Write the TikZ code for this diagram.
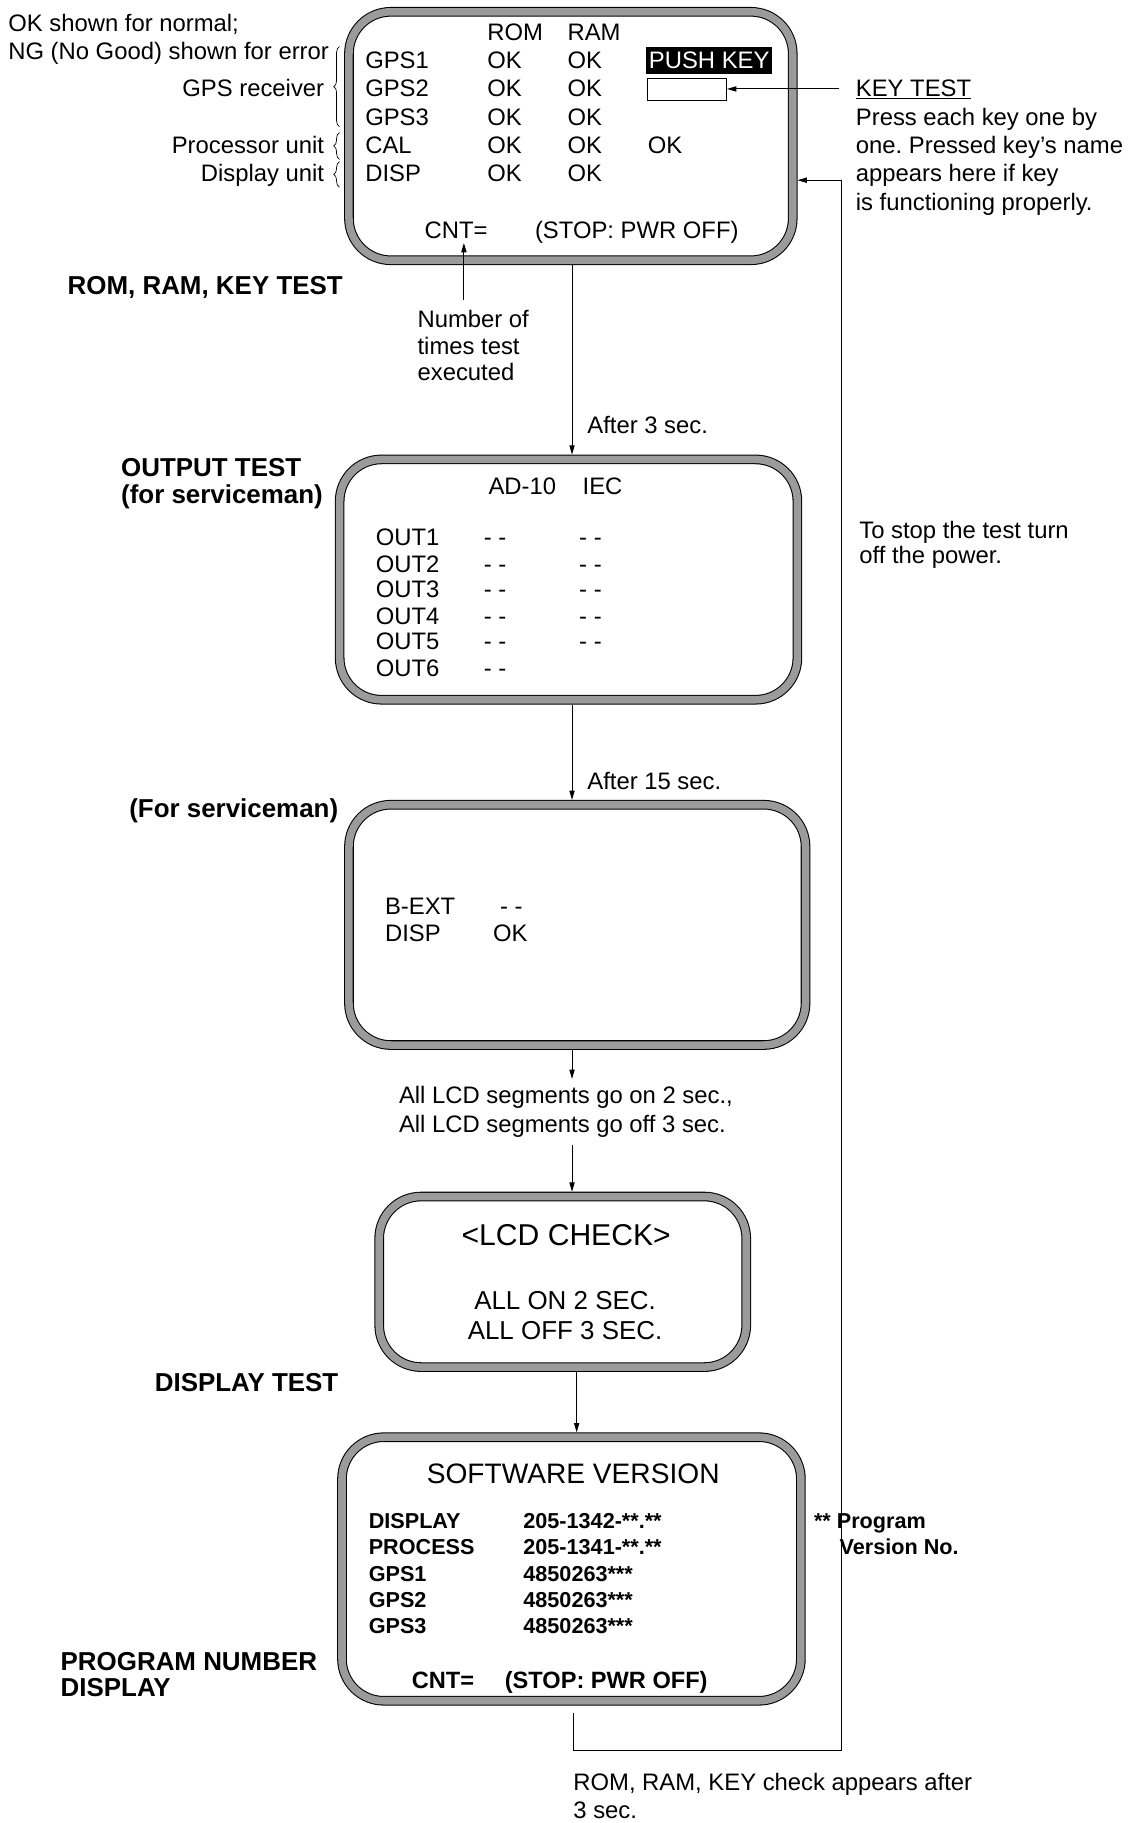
\documentclass[tikz,border=0pt]{standalone}
\usepackage{fontspec}
\setmainfont{Liberation Sans}
\usetikzlibrary{arrows.meta,decorations.pathreplacing}
\definecolor{midgray}{RGB}{155,155,155}
\frenchspacing
\begin{document}
\begin{tikzpicture}[x=1pt,y=-1pt,
  screen/.style={draw=black, line width=0.9pt, double=midgray, double distance=6.5pt,
    fill=white, rounded corners=36pt, inner sep=0pt, outer sep=4.15pt},
  t/.style={inner sep=0pt, anchor=base west, font=\fontsize{20.5}{24}\selectfont},
  tc/.style={t, anchor=base},
  tr/.style={t, anchor=base east},
  hb/.style={inner sep=0pt, anchor=base west, font=\fontsize{22.3}{26}\selectfont\bfseries},
  sb/.style={inner sep=0pt, anchor=base west, font=\fontsize{18.6}{22}\selectfont\bfseries},
  arr/.style={line width=0.8pt, -{Triangle[length=8pt,width=4.5pt]}},
  ln/.style={line width=0.8pt},
  brc/.style={line width=0.6pt, decorate, decoration={brace, amplitude=5pt}}
]
\useasboundingbox (0,0) rectangle (976,1568);

% ---------- screens ----------
\node[screen, minimum width=381.7, minimum height=213.7] (b1) at (491,117) {};
\node[screen, minimum width=393.7, minimum height=206.7] (b2) at (489,498.5) {};
\node[screen, minimum width=392.7, minimum height=206.7] (b3) at (496.5,795.5) {};
\node[screen, minimum width=315.7, minimum height=146.7] (b4) at (484,1102.5) {};
\node[screen, minimum width=394.7, minimum height=226.7] (b5) at (491.5,1349.5) {};

% ---------- top-left notes ----------
\node[t] (okn) at (7,27) {OK shown for normal;};
\node[t] (ngn) at (7,51) {NG (No Good) shown for error};
\node[tr] (gpsr) at (279,83) {GPS receiver};
\node[tr] (procu) at (279,132) {Processor unit};
\node[tr] (dispu) at (279,156) {Display unit};
\draw[brc] (292,109) -- (292,40);
\draw[brc] (292,137) -- (292,114);
\draw[brc] (292,161) -- (292,139);

% ---------- box 1 ----------
\node[t] (rom) at (419,35) {ROM};
\node[t] (ram) at (488,35) {RAM};
\node[t] (g1) at (314,59) {GPS1};
\node[t] (g1a) at (419,59) {OK};
\node[t] (g1b) at (488,59) {OK};
\node[fill=black, text=white, inner sep=0pt, minimum width=108, minimum height=24,
  font=\fontsize{20.5}{24}\selectfont] (pk) at (610,52) {PUSH KEY};
\node[t] (g2) at (314,83) {GPS2};
\node[t] (g2a) at (419,83) {OK};
\node[t] (g2b) at (488,83) {OK};
\node[draw, line width=0.6pt, inner sep=0pt, minimum width=68, minimum height=19] (keybox) at (591,76.5) {};
\node[t] (g3) at (314,108) {GPS3};
\node[t] (g3a) at (419,108) {OK};
\node[t] (g3b) at (488,108) {OK};
\node[t] (cal) at (314,132) {CAL};
\node[t] (cala) at (419,132) {OK};
\node[t] (calb) at (488,132) {OK};
\node[t] (calc) at (557,132) {OK};
\node[t] (dsp) at (314,156) {DISP};
\node[t] (dspa) at (419,156) {OK};
\node[t] (dspb) at (488,156) {OK};
\node[t] (cnt) at (365,205) {CNT=};
\node[t] (stop1) at (460,205) {(STOP: PWR OFF)};

% ---------- key test note ----------
\node[t] (kt) at (736,83) {\underline{KEY TEST}};
\node[t] (kt1) at (736,108) {Press each key one by};
\node[t] (kt2) at (736,132) {one. Pressed key’s name};
\node[t] (kt3) at (736,156) {appears here if key};
\node[t] (kt4) at (736,181) {is functioning properly.};
\coordinate (ktc) at (722,76.5);
\draw[arr] (ktc) -- (keybox.east);

% ---------- count note ----------
\node[hb] (h1) at (58,253) {ROM, RAM, KEY TEST};
\node[t] (nt1) at (359,282) {Number of};
\node[t] (nt2) at (359,305) {times test};
\node[t] (nt3) at (359,327) {executed};
\coordinate (nc) at (399,258);
\coordinate (ncend) at (399,209);
\draw[arr] (nc) -- (ncend);

% ---------- flow ----------
\coordinate (axis) at (492,0);
\coordinate (axisb) at (496,0);
\draw[arr] (b1.south -| axis) -- (b2.north -| axis);
\node[t] (a3s) at (505,373) {After 3 sec.};

\node[hb] (h2a) at (104,410) {OUTPUT TEST};
\node[hb] (h2b) at (104,433) {(for serviceman)};
\node[t] (ad) at (420,425) {AD-10};
\node[t] (iec) at (501,425) {IEC};
\node[t] (o1) at (323,469) {OUT1};
\node[t] (o1a) at (416,469) {- -};
\node[t] (o1b) at (498,469) {- -};
\node[t] (o2) at (323,492) {OUT2};
\node[t] (o2a) at (416,492) {- -};
\node[t] (o2b) at (498,492) {- -};
\node[t] (o3) at (323,514) {OUT3};
\node[t] (o3a) at (416,514) {- -};
\node[t] (o3b) at (498,514) {- -};
\node[t] (o4) at (323,537) {OUT4};
\node[t] (o4a) at (416,537) {- -};
\node[t] (o4b) at (498,537) {- -};
\node[t] (o5) at (323,559) {OUT5};
\node[t] (o5a) at (416,559) {- -};
\node[t] (o5b) at (498,559) {- -};
\node[t] (o6) at (323,582) {OUT6};
\node[t] (o6a) at (416,582) {- -};

\node[t] (st1) at (739,463) {To stop the test turn};
\node[t] (st2) at (739,485) {off the power.};

\draw[arr] (b2.south -| axis) -- (b3.north -| axis);
\node[t] (a15s) at (505,679) {After 15 sec.};

\node[hb] (h3) at (111,703) {(For serviceman)};
\node[t] (bext) at (331,787) {B-EXT};
\node[t] (bexta) at (430,787) {- -};
\node[t] (dsp3) at (331,810) {DISP};
\node[t] (dsp3a) at (424,810) {OK};

\node[t] (lcd1) at (343,949) {All LCD segments go on 2 sec.,};
\node[t] (lcd2) at (343,974) {All LCD segments go off 3 sec.};
\coordinate (lcdend) at (492,928);
\draw[arr] (b3.south -| axis) -- (lcdend);
\coordinate (lcdstart) at (492,985);
\draw[arr] (lcdstart) -- (b4.north -| axis);

\node[inner sep=0pt, anchor=base, font=\fontsize{25.9}{30}\selectfont] (lcdc) at (487,1071) {<LCD CHECK>};
\node[inner sep=0pt, anchor=base, font=\fontsize{22.3}{26}\selectfont] (allon) at (486,1126) {ALL ON 2 SEC.};
\node[inner sep=0pt, anchor=base, font=\fontsize{22.3}{26}\selectfont] (alloff) at (486,1152) {ALL OFF 3 SEC.};

\node[hb] (h4) at (133,1197) {DISPLAY TEST};
\draw[arr] (b4.south -| axisb) -- (b5.north -| axisb);

% ---------- box 5 ----------
\node[inner sep=0pt, anchor=base, font=\fontsize{24.2}{28}\selectfont] (swv) at (493,1276) {SOFTWARE VERSION};
\node[sb] (s1) at (317,1315) {DISPLAY};
\node[sb] (s1v) at (450,1315) {205-1342-**.**};
\node[sb] (s2) at (317,1337) {PROCESS};
\node[sb] (s2v) at (450,1337) {205-1341-**.**};
\node[sb] (s3) at (317,1360) {GPS1};
\node[sb] (s3v) at (450,1360) {4850263***};
\node[sb] (s4) at (317,1383) {GPS2};
\node[sb] (s4v) at (450,1383) {4850263***};
\node[sb] (s5) at (317,1405) {GPS3};
\node[sb] (s5v) at (450,1405) {4850263***};
\node[inner sep=0pt, anchor=base west, font=\fontsize{20.3}{24}\selectfont\bfseries] (cnt5) at (354,1452) {CNT=};
\node[inner sep=0pt, anchor=base west, font=\fontsize{20.3}{24}\selectfont\bfseries] (stop5) at (434,1452) {(STOP: PWR OFF)};

\node[hb] (h5a) at (52,1437) {PROGRAM NUMBER};
\node[hb] (h5b) at (52,1459) {DISPLAY};

\node[sb] (pv1) at (700,1315) {** Program};
\node[sb] (pv2) at (722,1337) {Version No.};

% ---------- return loop ----------
\coordinate (r0) at (493,1473);
\coordinate (r2) at (724,1506);
\coordinate (r3) at (724,155);
\draw[arr] (r0) |- (r2) -- (r3) -- (r3 -| b1.east);

\node[t] (rt1) at (493,1540) {ROM, RAM, KEY check appears after};
\node[t] (rt2) at (493,1564) {3 sec.};
\end{tikzpicture}
\end{document}
